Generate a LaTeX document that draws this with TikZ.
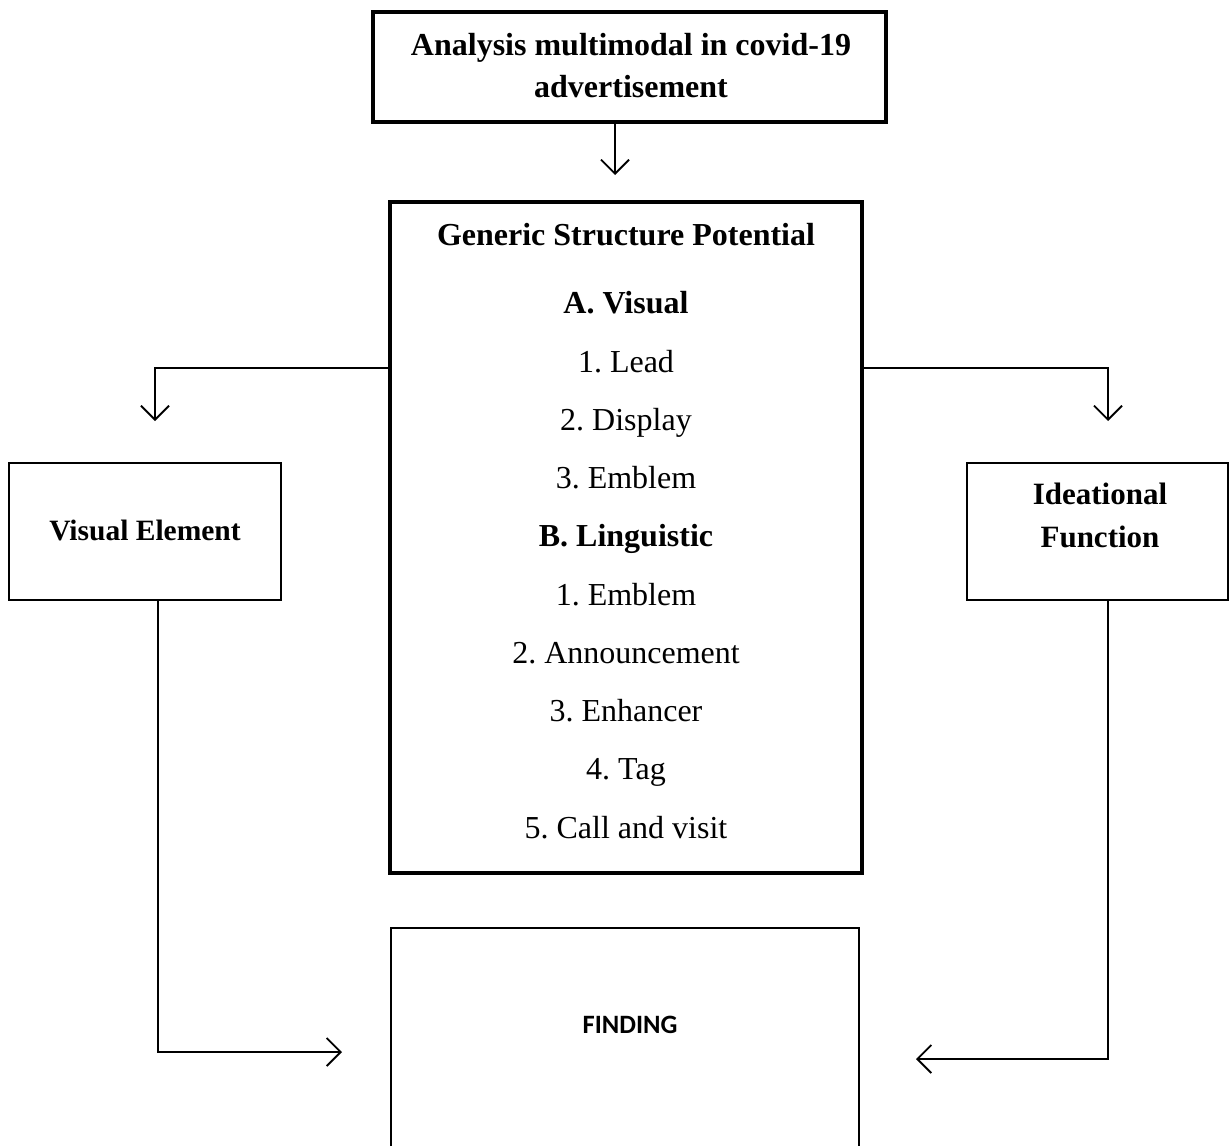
\documentclass[tikz,border=0pt]{standalone}
\usepackage{fontspec}
\setmainfont{Liberation Serif}
\newfontfamily\findfont{Carlito}
\usetikzlibrary{arrows.meta}
\frenchspacing
\begin{document}
\begin{tikzpicture}[x=1pt,y=-1pt,
  thickbox/.style={draw,line width=4pt,inner sep=0pt},
  thinbox/.style={draw,line width=1.3pt,inner sep=0pt},
  conn/.style={line width=1.8pt,-{Straight Barb[length=14pt,width=28pt,line width=1.8pt]}},
]
\useasboundingbox (0,0) rectangle (1229,1146);

% header box
\node[thickbox,minimum width=513pt,minimum height=110pt] (top) at (629.5,67) {};
\node[font=\fontsize{32}{42}\selectfont\bfseries,align=center] (toptxt) at (631,66)
  {Analysis multimodal in covid-19\\advertisement};

% central box with the structure list
\newcommand\headline[1]{{\bfseries #1}}
\node[thickbox,minimum width=472pt,minimum height=671pt] (gsp) at (626,537.5) {};
\node[font=\fontsize{32}{58.25}\selectfont,align=center,anchor=north] (list) at (626,220)
  {\headline{Generic Structure Potential}\\[10pt]
   \headline{A. Visual}\\
   1. Lead\\
   2. Display\\
   3. Emblem\\
   \headline{B. Linguistic}\\
   1. Emblem\\
   2. Announcement\\
   3. Enhancer\\
   4. Tag\\
   5. Call and visit};

% side boxes
\node[thinbox,minimum width=272pt,minimum height=137pt] (vis) at (145,531.5) {};
\node[font=\fontsize{29.5}{42}\selectfont\bfseries] (vistxt) at (145,530) {Visual Element};
\node[thinbox,minimum width=261pt,minimum height=137pt] (ide) at (1097.5,531.5) {};
\node[font=\fontsize{31}{43}\selectfont\bfseries,align=center] (idetxt) at (1100,515)
  {Ideational\\Function};

% result box, running off the lower edge
\draw[line width=1.3pt] (391,1146) coordinate (fbl) -- (391,928) -- (859,928) -- (859,1146) coordinate (fbr);
\node[font=\findfont\fontsize{26.5}{30}\selectfont\bfseries] (find) at (630,1025) {FINDING};

% connectors
\coordinate (a1) at (615,175);
\coordinate (a2) at (155,421);
\coordinate (a3) at (1108,421);
\coordinate (a4) at (342,1052);
\coordinate (a5) at (916,1059);
\draw[conn] (top.south -| a1) -- (a1);
\draw[conn] (gsp.west |- 0,368) -| (a2);
\draw[conn] (gsp.east |- 0,368) -| (a3);
\draw[conn] (vis.south -| 158,0) |- (a4);
\draw[conn] (ide.south -| a3) |- (a5);
\end{tikzpicture}
\end{document}
